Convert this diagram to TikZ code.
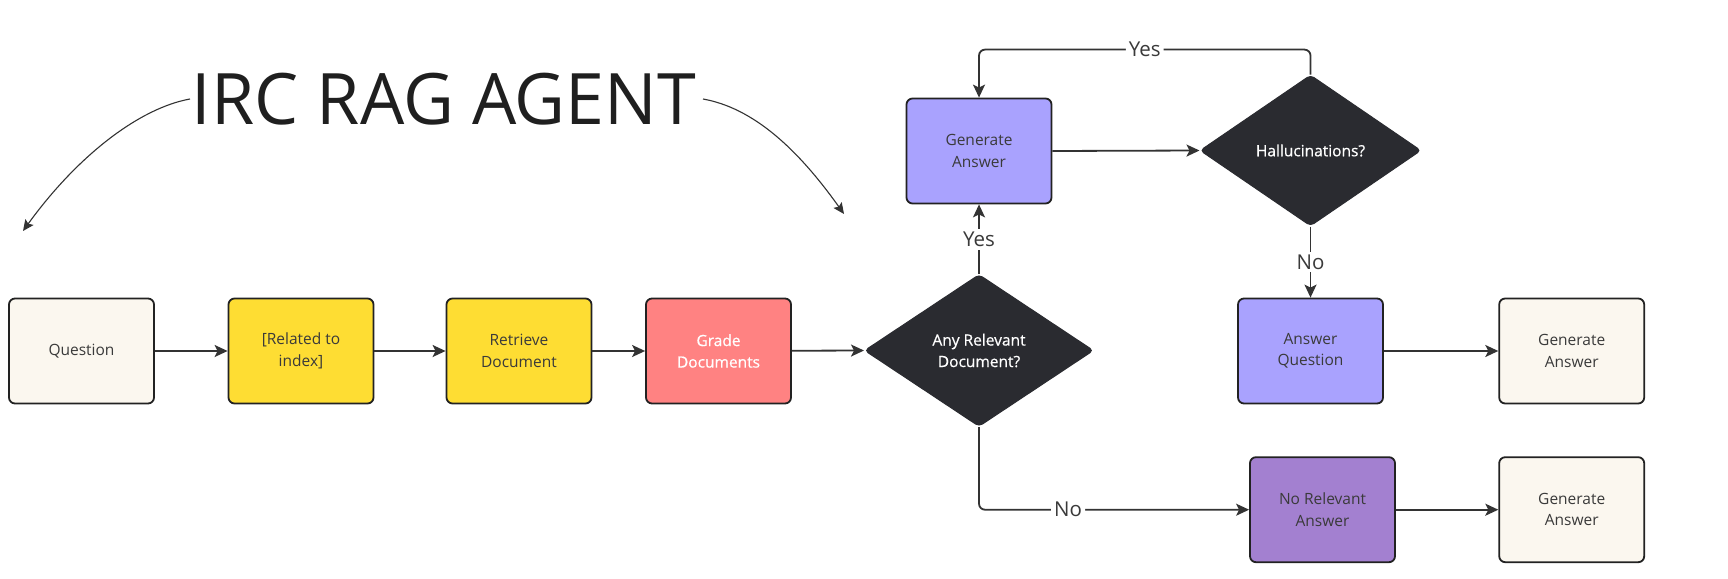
\documentclass[tikz,border=0pt]{standalone}
\usepackage{fontspec}
\setmainfont{Open Sans}
\newfontface\semib[FakeBold=0.6]{Open Sans}
\usetikzlibrary{shapes.geometric,arrows.meta}
\definecolor{cream}{HTML}{FBF7EF}
\definecolor{ylw}{HTML}{FEDD33}
\definecolor{salmon}{HTML}{FF8282}
\definecolor{lav}{HTML}{A9A2FE}
\definecolor{purp}{HTML}{A380D0}
\definecolor{darkd}{HTML}{2A2B30}
\definecolor{linec}{HTML}{333333}
\definecolor{bord}{HTML}{222222}
\definecolor{txt}{HTML}{3A3A3A}
\tikzset{
  box/.style={draw=bord, line width=1.8pt, rounded corners=6pt, minimum width=145pt, minimum height=105pt,
    inner sep=0pt, align=center, text=txt, font=\fontsize{15.5}{21.5}\selectfont},
  dia/.style={diamond, draw=darkd, fill=darkd, line width=1pt, rounded corners=4pt, inner sep=0pt, align=center,
    text=white, font=\semib\fontsize{15.5}{21.5}\selectfont},
  conn/.style={draw=linec, line width=1.8pt, -{Stealth[length=13pt,width=12pt,inset=3pt]}},
  thin/.style={draw=linec, line width=1.1pt, -{Stealth[length=11pt,width=10pt,inset=2pt]}},
  lbl/.style={fill=white, text=txt, inner sep=3pt, font=\fontsize{20.5}{24}\selectfont}
}
\begin{document}
\begin{tikzpicture}[x=1pt,y=-1pt]
\useasboundingbox[fill=white] (0,0) rectangle (1728,578);
% title
\node[inner sep=0pt, text=black!88, font=\fontsize{71}{84}\selectfont, xscale=0.985] (title) at (444,99) {IRC RAG AGENT};
\coordinate (lt) at (23,231);
\coordinate (rt) at (844,214);
\coordinate (ls) at (190,99);
\coordinate (rs) at (703,99);
\draw[thin] (ls) .. controls (140,108) and (78,155) .. (lt);
\draw[thin] (rs) .. controls (753,108) and (797,148) .. (rt);
% boxes
\node[box, fill=cream] (q) at (81.5,351) {Question};
\node[box, fill=ylw] (rel) at (301,351) {[Related to\\index]};
\node[box, fill=ylw] (ret) at (519,351) {Retrieve\\Document};
\node[box, fill=salmon, text=white, font=\semib\fontsize{15.5}{21.5}\selectfont] (grade) at (718.5,351) {Grade\\Documents};
\node[dia, minimum width=229pt, minimum height=152pt] (any) at (979,350.5) {Any Relevant\\Document?};
\node[box, fill=lav, text=txt] (gena) at (979,151) {Generate\\Answer};
\node[dia, minimum width=221pt, minimum height=151pt] (hal) at (1310.5,150.5) {Hallucinations?};
\node[box, fill=lav] (ansq) at (1310.5,351) {Answer\\Question};
\node[box, fill=cream] (gr1) at (1571.7,351) {Generate\\Answer};
\node[box, fill=purp] (norel) at (1322.5,509.7) {No Relevant\\Answer};
\node[box, fill=cream] (gr2) at (1571.7,509.7) {Generate\\Answer};
\coordinate (ytop) at (0,49.6);
% connectors
\draw[conn] (q) -- (rel);
\draw[conn] (rel) -- (ret);
\draw[conn] (ret) -- (grade);
\draw[conn] (grade) -- (any.west);
\draw[conn] (any.north) -- node[lbl]{Yes} (gena.south);
\draw[conn] (gena.east) -- (hal.west);
\draw[conn, rounded corners=6pt] (hal.north) -- (hal.north |- ytop) -- node[lbl]{Yes} (gena.north |- ytop) -- (gena.north);
\draw[conn] (hal.south) -- node[lbl]{No} (ansq.north);
\draw[conn] (ansq) -- (gr1);
\draw[conn, rounded corners=6pt] (any.south) -- (any.south |- norel.west) -- node[lbl, pos=0.33]{No} (norel.west);
\draw[conn] (norel) -- (gr2);
\end{tikzpicture}
\end{document}
